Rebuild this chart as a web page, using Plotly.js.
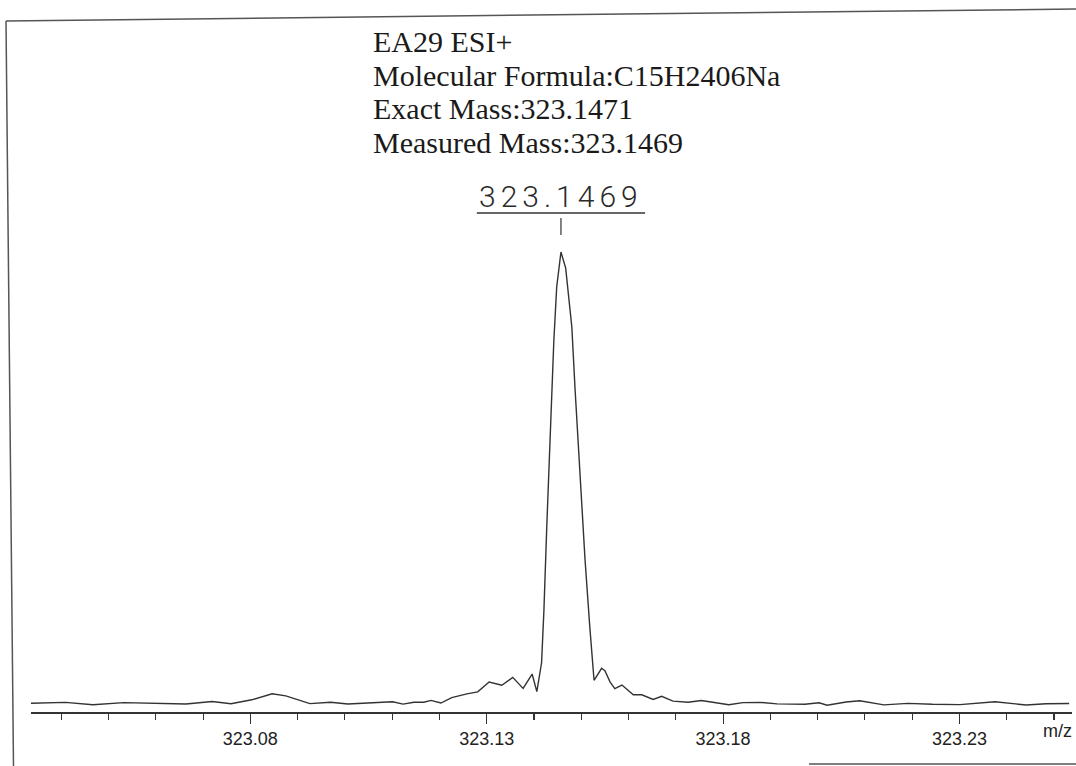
<!DOCTYPE html>
<html>
<head>
<meta charset="utf-8">
<script src="https://cdn.plot.ly/plotly-3.0.1.min.js"></script>
<style>
  html, body { margin: 0; padding: 0; background: #ffffff; }
  #chart { width: 1076px; height: 766px; }
</style>
</head>
<body>
<div id="chart"></div>
<script>
// ---- data ----
var mz = [323.0336, 323.0409, 323.0467, 323.0532, 323.0664, 323.0719, 323.0759, 323.0803, 323.0846, 323.0875,
          323.0926, 323.0970, 323.1006, 323.1101, 323.1123, 323.1146, 323.1167, 323.1182, 323.1203, 323.1226,
          323.1258, 323.1281, 323.1305, 323.1332, 323.1355, 323.1377, 323.1396, 323.1406, 323.1416, 323.1421,
          323.1427, 323.1432, 323.1437, 323.1442, 323.1448, 323.1457, 323.1467, 323.1480, 323.1487, 323.1496,
          323.1508, 323.1518, 323.1527, 323.1543, 323.1550, 323.1561, 323.1571, 323.1586, 323.1610, 323.1628,
          323.1652, 323.1670, 323.1694, 323.1726, 323.1754, 323.1812, 323.1842, 323.1878, 323.1914, 323.1973,
          323.2003, 323.2020, 323.2060, 323.2089, 323.2140, 323.2191, 323.2243, 323.2301, 323.2337, 323.2375,
          323.2441, 323.2483, 323.2532];
var intensity = [1.89, 2.09, 1.59, 2.04, 1.74, 2.28, 1.78, 2.65, 3.97, 3.52,
                 1.82, 2.11, 1.74, 2.22, 1.72, 2.13, 2.11, 2.52, 1.95, 3.13,
                 3.95, 4.37, 6.52, 5.82, 7.54, 5.13, 8.25, 4.43, 10.7, 22.2,
                 40.3, 53.7, 70.0, 80.8, 92.4, 100, 96.5, 83.7, 69.9, 53.6,
                 33.0, 18.5, 6.9, 9.5, 9.0, 6.5, 5.10, 5.86, 3.76, 3.74,
                 2.74, 3.41, 2.37, 2.11, 2.50, 1.59, 2.04, 2.09, 1.76, 1.67,
                 2.02, 1.48, 2.17, 2.43, 1.54, 1.87, 1.67, 1.61, 1.93, 2.24,
                 1.52, 1.78, 1.85];
var infoLines = ["EA29 ESI+",
                 "Molecular Formula:C15H2406Na",
                 "Exact Mass:323.1471",
                 "Measured Mass:323.1469"];
var peakLabel = "323.1469";
var axisLabel = "m/z";
var xRange = [323.0336, 323.2538];

// ---- layout helpers (pixel -> paper) ----
var W = 1076, H = 766, ML = 31, MR = 4, MT = 229, MB = 54;
var PW = W - ML - MR, PH = H - MT - MB;
function px(x) { return (x - ML) / PW; }
function py(y) { return (H - MB - y) / PH; }

var peakIdx = intensity.indexOf(Math.max.apply(null, intensity));
var peakX = mz[peakIdx];

var infoY = [42, 76, 109, 142];
var annotations = infoLines.map(function (t, i) {
  return {
    text: t, xref: 'paper', yref: 'paper', x: px(371), y: py(infoY[i]),
    xanchor: 'left', yanchor: 'middle', showarrow: false,
    font: { family: 'Liberation Serif, Times New Roman, serif', size: 30, color: '#1a1a1a' }
  };
});
annotations.push({
  text: peakLabel, xref: 'x', yref: 'paper', x: peakX, y: py(196),
  xanchor: 'center', yanchor: 'middle', showarrow: false,
  font: { family: 'Roboto, Liberation Sans, sans-serif', size: 30, weight: 300, color: '#2a2a2a' }
});
annotations.push({
  text: axisLabel, xref: 'paper', yref: 'paper', x: px(1057), y: py(731),
  xanchor: 'center', yanchor: 'middle', showarrow: false,
  font: { family: 'Liberation Sans, Arial, sans-serif', size: 18, color: '#222' }
});

var lineStyle = { color: '#555', width: 1.5 };
var shapes = [
  // peak label underline and marker
  { type: 'line', xref: 'x', yref: 'paper', x0: peakX - 0.0178, x1: peakX + 0.0178, y0: py(213), y1: py(213), line: { color: '#333', width: 1.3 } },
  { type: 'line', xref: 'x', yref: 'paper', x0: peakX, x1: peakX, y0: py(218), y1: py(235), line: { color: '#333', width: 1.2 } },
  // page frame lines
  { type: 'line', xref: 'paper', yref: 'paper', x0: px(6), y0: py(21), x1: px(13.5), y1: py(766), line: lineStyle },
  { type: 'line', xref: 'paper', yref: 'paper', x0: px(6), y0: py(21), x1: px(1076), y1: py(9), line: lineStyle },
  { type: 'line', xref: 'paper', yref: 'paper', x0: px(809), y0: py(764), x1: px(1076), y1: py(764), line: lineStyle }
];

var trace = {
  x: mz, y: intensity, type: 'scatter', mode: 'lines',
  line: { color: '#333333', width: 1.4 }, hoverinfo: 'x+y'
};

var layout = {
  width: W, height: H,
  margin: { l: ML, r: MR, t: MT, b: MB, pad: 0 },
  paper_bgcolor: '#ffffff', plot_bgcolor: '#ffffff',
  showlegend: false,
  xaxis: {
    range: xRange, showgrid: false, zeroline: false,
    showline: true, linecolor: '#333', linewidth: 1.5,
    ticks: 'outside', ticklen: 10, tickwidth: 1.2, tickcolor: '#333',
    tick0: 323.08, dtick: 0.05, tickformat: '.2f',
    tickfont: { family: 'Liberation Sans, Arial, sans-serif', size: 18, color: '#222' },
    ticklabelstandoff: 0,
    minor: { dtick: 0.01, tick0: 323.08, ticks: 'outside', ticklen: 6, tickwidth: 1.1, tickcolor: '#333', showgrid: false },
    fixedrange: true
  },
  yaxis: { range: [0, 105], visible: false, fixedrange: true },
  annotations: annotations,
  shapes: shapes
};

Plotly.newPlot('chart', [trace], layout, { staticPlot: true }).then(function (gd) {
  var texts = gd.querySelectorAll('.annotation-text');
  texts.forEach(function (t) {
    if (t.textContent === peakLabel) { t.style.letterSpacing = '5px'; }
  });
});
</script>
</body>
</html>
